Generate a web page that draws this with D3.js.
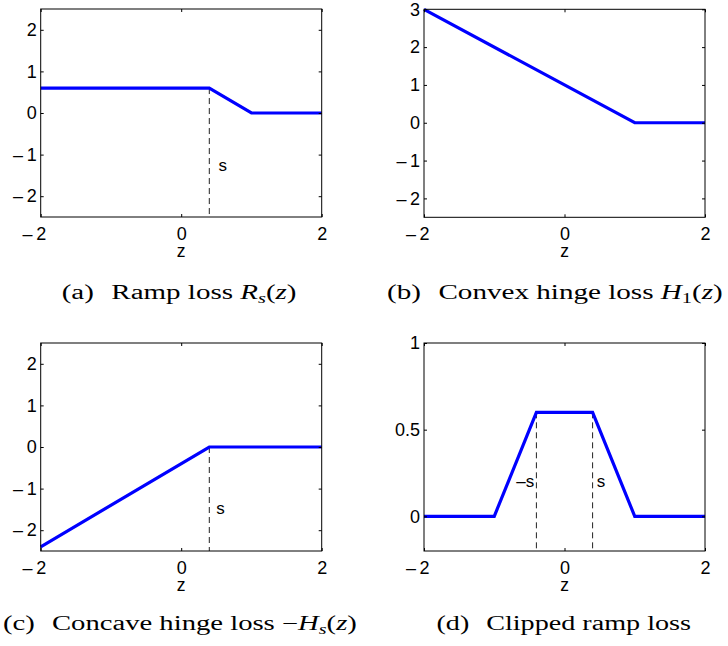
<!DOCTYPE html>
<html>
<head>
<meta charset="utf-8">
<script src="https://cdn.jsdelivr.net/npm/d3@7"></script>
<style>
  body { margin: 0; background: #fff; }
</style>
</head>
<body>
<div id="chart"></div>
<script>
// data
const zTicks = [-2, 0, 2];

const rampZ = [-2, 0.4, 1, 2];
const rampY = [0.6, 0.6, 0, 0];

const hingeZ = [-2, 1, 2];
const hingeY = [3, 0, 0];

const concaveZ = [-2, 0.4, 2];
const concaveY = [-2.4, 0, 0];

const clippedZ = [-2, -1, -0.4, 0.4, 1, 2];
const clippedY = [0, 0, 0.6, 0.6, 0, 0];

const yTicksA = [-2, -1, 0, 1, 2];
const yTicksB = [-2, -1, 0, 1, 2, 3];
const yTicksC = [-2, -1, 0, 1, 2];
const yTicksD = [0, 0.5, 1];

// dashed guide lines: z position, top value
const guidesA = [{ z: 0.4, top: 0.6 }];
const guidesC = [{ z: 0.4, top: 0 }];
const guidesD = [{ z: -0.4, top: 0.6 }, { z: 0.4, top: 0.6 }];

// annotation text
const notesA = [{ text: "s", z: 0.53, y: -1.4, anchor: "start" }];
const notesC = [{ text: "s", z: 0.5, y: -1.62, anchor: "start" }];
const notesD = [
    { text: "\u2013s", z: -0.43, y: 0.17, anchor: "end" },
    { text: "s", z: 0.46, y: 0.17, anchor: "start" }
];

const SANS = "'Liberation Sans', Arial, Helvetica, sans-serif";
const SERIF = "'Liberation Serif', 'Times New Roman', serif";

const svg = d3.select("#chart")
    .append("svg")
    .attr("width", 728)
    .attr("height", 646);

svg.append("rect").attr("width", 728).attr("height", 646).attr("fill", "#fff");

const boxW = 281, boxH = 208;

const panels = [
    { x: 40.7, y: 9, zs: rampZ, ys: rampY, yDomain: [-2.5, 2.5], yTicks: yTicksA, guides: guidesA, notes: notesA },
    { x: 424, y: 9.3, zs: hingeZ, ys: hingeY, yDomain: [-2.5, 3], yTicks: yTicksB, guides: [], notes: [] },
    { x: 40.7, y: 343, zs: concaveZ, ys: concaveY, yDomain: [-2.5, 2.5], yTicks: yTicksC, guides: guidesC, notes: notesC },
    { x: 424, y: 343, zs: clippedZ, ys: clippedY, yDomain: [-0.2, 1], yTicks: yTicksD, guides: guidesD, notes: notesD }
];

// MATLAB-looking minus: wide dash plus a thin gap
const fmt = d => (d < 0 ? "\u2013\u2009" : "") + d3.format("")(Math.abs(d));

panels.forEach(p => {
    const g = svg.append("g").attr("transform", "translate(" + p.x + "," + p.y + ")");

    const xScale = d3.scaleLinear().domain([-2, 2]).range([0, boxW]);
    const yScale = d3.scaleLinear().domain(p.yDomain).range([boxH, 0]);

    // dashed guides first so the blue line sits on top
    g.selectAll(".guide")
        .data(p.guides)
        .enter().append("line")
        .attr("x1", d => xScale(d.z))
        .attr("x2", d => xScale(d.z))
        .attr("y1", d => yScale(d.top))
        .attr("y2", boxH)
        .attr("stroke", "#222")
        .attr("stroke-width", 1)
        .attr("stroke-dasharray", "6,4");

    const pts = p.zs.map((z, i) => [z, p.ys[i]]);
    g.append("path")
        .datum(pts)
        .attr("fill", "none")
        .attr("stroke", "#0000ff")
        .attr("stroke-width", 3.2)
        .attr("d", d3.line().x(d => xScale(d[0])).y(d => yScale(d[1])));

    // inward ticks on all four sides, MATLAB style
    const tl = 3;
    const ax = [
        { axis: d3.axisBottom(xScale), t: "translate(0," + boxH + ")", lab: true },
        { axis: d3.axisTop(xScale), t: "translate(0,0)", lab: false },
        { axis: d3.axisLeft(yScale).tickValues(p.yTicks), t: "translate(0,0)", lab: true },
        { axis: d3.axisRight(yScale).tickValues(p.yTicks), t: "translate(" + boxW + ",0)", lab: false }
    ];
    ax.forEach((a, i) => {
        const axis = a.axis.tickSizeOuter(0).tickSizeInner(-tl).tickPadding(4).tickFormat(fmt);
        if (i < 2) axis.tickValues(zTicks);
        const ag = g.append("g").attr("transform", a.t).call(axis)
            .attr("font-family", SANS)
            .attr("font-size", 18);
        ag.select(".domain").remove();
        ag.selectAll("line").attr("stroke", "#000");
        ag.selectAll("text")
            .attr("fill", "#000")
            .style("display", a.lab ? null : "none");
        if (i === 0) {
            // keep the digit centred under the tick, the dash hangs left
            ag.selectAll("text")
                .attr("dy", null)
                .attr("y", 23)
                .attr("dx", d => d < 0 ? -6.8 : 0);
        }
    });

    g.append("rect")
        .attr("width", boxW)
        .attr("height", boxH)
        .attr("fill", "none")
        .attr("stroke", "#000")
        .attr("stroke-width", 1);

    g.append("text")
        .attr("font-family", SANS)
        .attr("font-size", 17.5)
        .attr("x", xScale(0))
        .attr("y", boxH + 40)
        .attr("text-anchor", "middle")
        .text("z");

    g.selectAll(".note")
        .data(p.notes)
        .enter().append("text")
        .attr("font-family", SANS)
        .attr("font-size", 17)
        .attr("x", d => xScale(d.z))
        .attr("y", d => yScale(d.y))
        .attr("text-anchor", d => d.anchor)
        .text(d => d.text);
});

// captions, each as a list of [text, style] pieces
const captions = [
    { x: 61.7, y: 299, w: 235, parts: [["(a)", ""], ["Ramp loss ", "gap"], ["R", "it"], ["s", "sub"], ["(", "back"], ["z", "it"], [")", ""]] },
    { x: 387, y: 299, w: 336, parts: [["(b)", ""], ["Convex hinge loss ", "gap"], ["H", "it"], ["1", "subup"], ["(", "back"], ["z", "it"], [")", ""]] },
    { x: 3, y: 630, w: 354, parts: [["(c)", ""], ["Concave hinge loss \u2212", "gap"], ["H", "it"], ["s", "sub"], ["(", "back"], ["z", "it"], [")", ""]] },
    { x: 436.5, y: 630, w: 255, parts: [["(d)", ""], ["Clipped ramp loss", "gap"]] }
];

captions.forEach(c => {
    const t = svg.append("text")
        .attr("font-family", SERIF)
        .attr("font-size", 20)
        .attr("fill", "#000")
        .attr("x", 0)
        .attr("y", 0);
    c.parts.forEach(([s, style]) => {
        const ts = t.append("tspan").text(s);
        if (style === "gap") ts.attr("dx", 12);
        if (style === "it") ts.attr("font-style", "italic");
        if (style === "sub" || style === "subup") {
            ts.attr("font-size", 14).attr("dy", 4);
            if (style === "sub") ts.attr("font-style", "italic");
        }
        if (style === "back") ts.attr("dy", -4);
    });
    const w = t.node().getBBox().width;
    t.attr("transform", "translate(" + c.x + "," + c.y + ") scale(" + (c.w / w) + ",1)");
});
</script>
</body>
</html>
